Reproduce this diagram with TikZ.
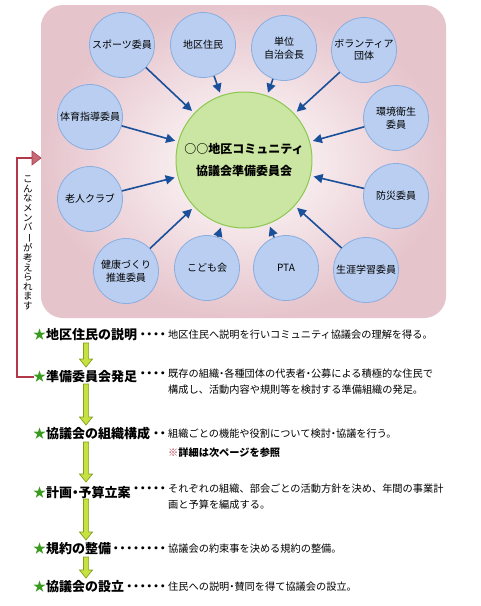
\documentclass[tikz,border=0pt]{standalone}
\usepackage{fontspec}
\setmainfont{Noto Sans CJK JP}
\usetikzlibrary{arrows.meta,calc}
\definecolor{pinkbg}{HTML}{E6C4CC}
\definecolor{bluefill}{HTML}{B9CEF0}
\definecolor{blueline}{HTML}{8AAEE0}
\definecolor{greenfill}{HTML}{CBE6A2}
\definecolor{greenline}{HTML}{8CC850}
\definecolor{arrowblue}{HTML}{1A4F9A}
\definecolor{bracketred}{HTML}{B03848}
\definecolor{garrfill}{HTML}{C8E040}
\definecolor{garrline}{HTML}{7FA020}
\definecolor{stargreen}{HTML}{3A9A20}
\tikzset{
  member/.style={circle, fill=bluefill, draw=blueline, line width=0.8pt, minimum size=65pt, inner sep=0pt, align=center, font=\fontsize{10}{12.5}\selectfont},
  hub/.style={circle, fill=greenfill, draw=greenline, line width=1pt, minimum size=136pt, inner sep=0pt, align=center, font=\fontsize{12}{22}\selectfont\bfseries},
  feed/.style={draw=arrowblue, line width=1.6pt, -{Triangle[length=9pt,width=9pt]}, shorten >=3pt},
  steptitle/.style={anchor=west, inner sep=0pt, font=\fontsize{13}{15}\selectfont\bfseries},
  stepdesc/.style={anchor=west, inner sep=0pt, align=left, font=\fontsize{10.2}{16}\selectfont},
  garr/.style={fill=garrfill, draw=garrline, line width=0.7pt, line join=miter},
}
\newcommand{\gstar}{\textcolor{stargreen}{★}}
\newcommand{\hd}{\makebox[0.5em]{・}}
\newcommand{\dts}[1]{\llap{\foreach \i in {1,...,#1}{\makebox[6.7pt]{\fontsize{11}{11}\selectfont\bfseries ・}}\hspace{2pt}}}
\newcommand{\garrow}[2]{%
  \path let \p1=(#1), \p2=(#2) in
    [garr] (\x1-2.6pt,\y1) -- (\x1+2.6pt,\y1) -- (\x1+2.6pt,\y2+8pt) -- (\x1+6.5pt,\y2+8pt)
    -- (\x1,\y2) -- (\x1-6.5pt,\y2+8pt) -- (\x1-2.6pt,\y2+8pt) -- cycle;}
\begin{document}
\begin{tikzpicture}[x=1pt,y=-1pt]
\useasboundingbox (0,0) rectangle (480,606);
\fill[white] (0,0) rectangle (480,606);
% background panel
\shade[inner color=white, outer color=pinkbg, rounded corners=22pt]
  (41,5) rectangle (446,318);

% hub
\node[hub] (hub) at (244,160) {○○地区コミュニティ\\協議会準備委員会};

% members
\node[member] (sports) at (122,45) {スポーツ委員};
\node[member] (resid)  at (203,45) {地区住民};
\node[member] (chief)  at (284,48) {単位\\自治会長};
\node[member] (volun)  at (364,50) {ボランティア\\団体};
\node[member] (taiiku) at (90,117) {体育指導委員};
\node[member] (kankyo) at (396,118) {環境衛生\\委員};
\node[member] (rojin)  at (90,199) {老人クラブ};
\node[member] (bosai)  at (396,196) {防災委員};
\node[member] (kenko)  at (126,271) {健康づくり\\推進委員};
\node[member] (kodomo) at (207,268) {こども会};
\node[member] (pta)    at (286,268) {PTA};
\node[member] (shogai) at (366,270) {生涯学習委員};

% feeds
\draw[feed] (sports) -- (hub);
\draw[feed] (resid) -- (hub);
\draw[feed] (chief) -- (hub);
\draw[feed] (volun) -- (hub);
\draw[feed] (taiiku) -- (hub);
\draw[feed] (kankyo) -- (hub);
\draw[feed] (rojin) -- (hub);
\draw[feed] (bosai) -- (hub);
\draw[feed] (kenko) -- (hub);
\draw[feed] (kodomo) -- (hub);
\draw[feed] (pta) -- (hub);
\draw[feed] (shogai) -- (hub);

% steps
\node[steptitle] (s1) at (33,335) {\gstar 地区住民の説明};
\node[steptitle] (s2) at (33,377) {\gstar 準備委員会発足};
\node[steptitle] (s3) at (33,434) {\gstar 協議会の組織構成};
\node[steptitle] (s4) at (33,492) {\gstar 計画\hd 予算立案};
\node[steptitle] (s5) at (33,549) {\gstar 規約の整備};
\node[steptitle] (s6) at (33,587) {\gstar 協議会の設立};

\node[stepdesc] (d1) at (168,335) {\dts{4}地区住民へ説明を行いコミュニティ協議会の理解を得る。};
\node[stepdesc, anchor=north west] (d2) at (168,369) {\dts{4}既存の組織\hd 各種団体の代表者\hd 公募による積極的な住民で\\構成し、活動内容や規則等を検討する準備組織の発足。};
\node[stepdesc] (d3) at (168,434) {\dts{2}組織ごとの機能や役割について検討\hd 協議を行う。};
\node[stepdesc, font=\fontsize{10.2}{12}\selectfont\bfseries] (note) at (168,453) {\textcolor{bracketred}{※}詳細は次ページを参照};
\node[stepdesc, anchor=north west] (d4) at (168,484) {\dts{5}それぞれの組織、部会ごとの活動方針を決め、年間の事業計\\画と予算を編成する。};
\node[stepdesc] (d5) at (168,549) {\dts{8}協議会の約束事を決める規約の整備。};
\node[stepdesc] (d6) at (168,587) {\dts{6}住民への説明\hd 賛同を得て協議会の設立。};

% green arrows
\coordinate (a1t) at (86,343); \coordinate (a1b) at (86,367);
\coordinate (a2t) at (86,384); \coordinate (a2b) at (86,425);
\coordinate (a3t) at (86,442); \coordinate (a3b) at (86,482);
\coordinate (a4t) at (86,499); \coordinate (a4b) at (86,540);
\coordinate (a5t) at (86,557); \coordinate (a5b) at (86,578);
\garrow{a1t}{a1b}
\garrow{a2t}{a2b}
\garrow{a3t}{a3b}
\garrow{a4t}{a4b}
\garrow{a5t}{a5b}

% bracket
\coordinate (bt) at (17,158);
\coordinate (bb) at (17,377);
\coordinate (btip) at (41,158);
\coordinate (bend) at (34,377);
\draw[bracketred, line width=1.3pt] (bend) -- (bb) -- (bt) -- ($(btip)+(-8,0)$);
\fill[bracketred!75, draw=bracketred, line width=0.6pt] (btip) -- ++(-9,-7) -- ++(0,14) -- cycle;

% vertical text
\node[inner sep=0pt, align=center, font=\fontsize{9.5}{9.6}\selectfont] (vt) at (28,243)
 {こ\\ん\\な\\メ\\ン\\バ\\\rotatebox[origin=c]{-90}{ー}\\が\\考\\え\\ら\\れ\\ま\\す};
\end{tikzpicture}
\end{document}
